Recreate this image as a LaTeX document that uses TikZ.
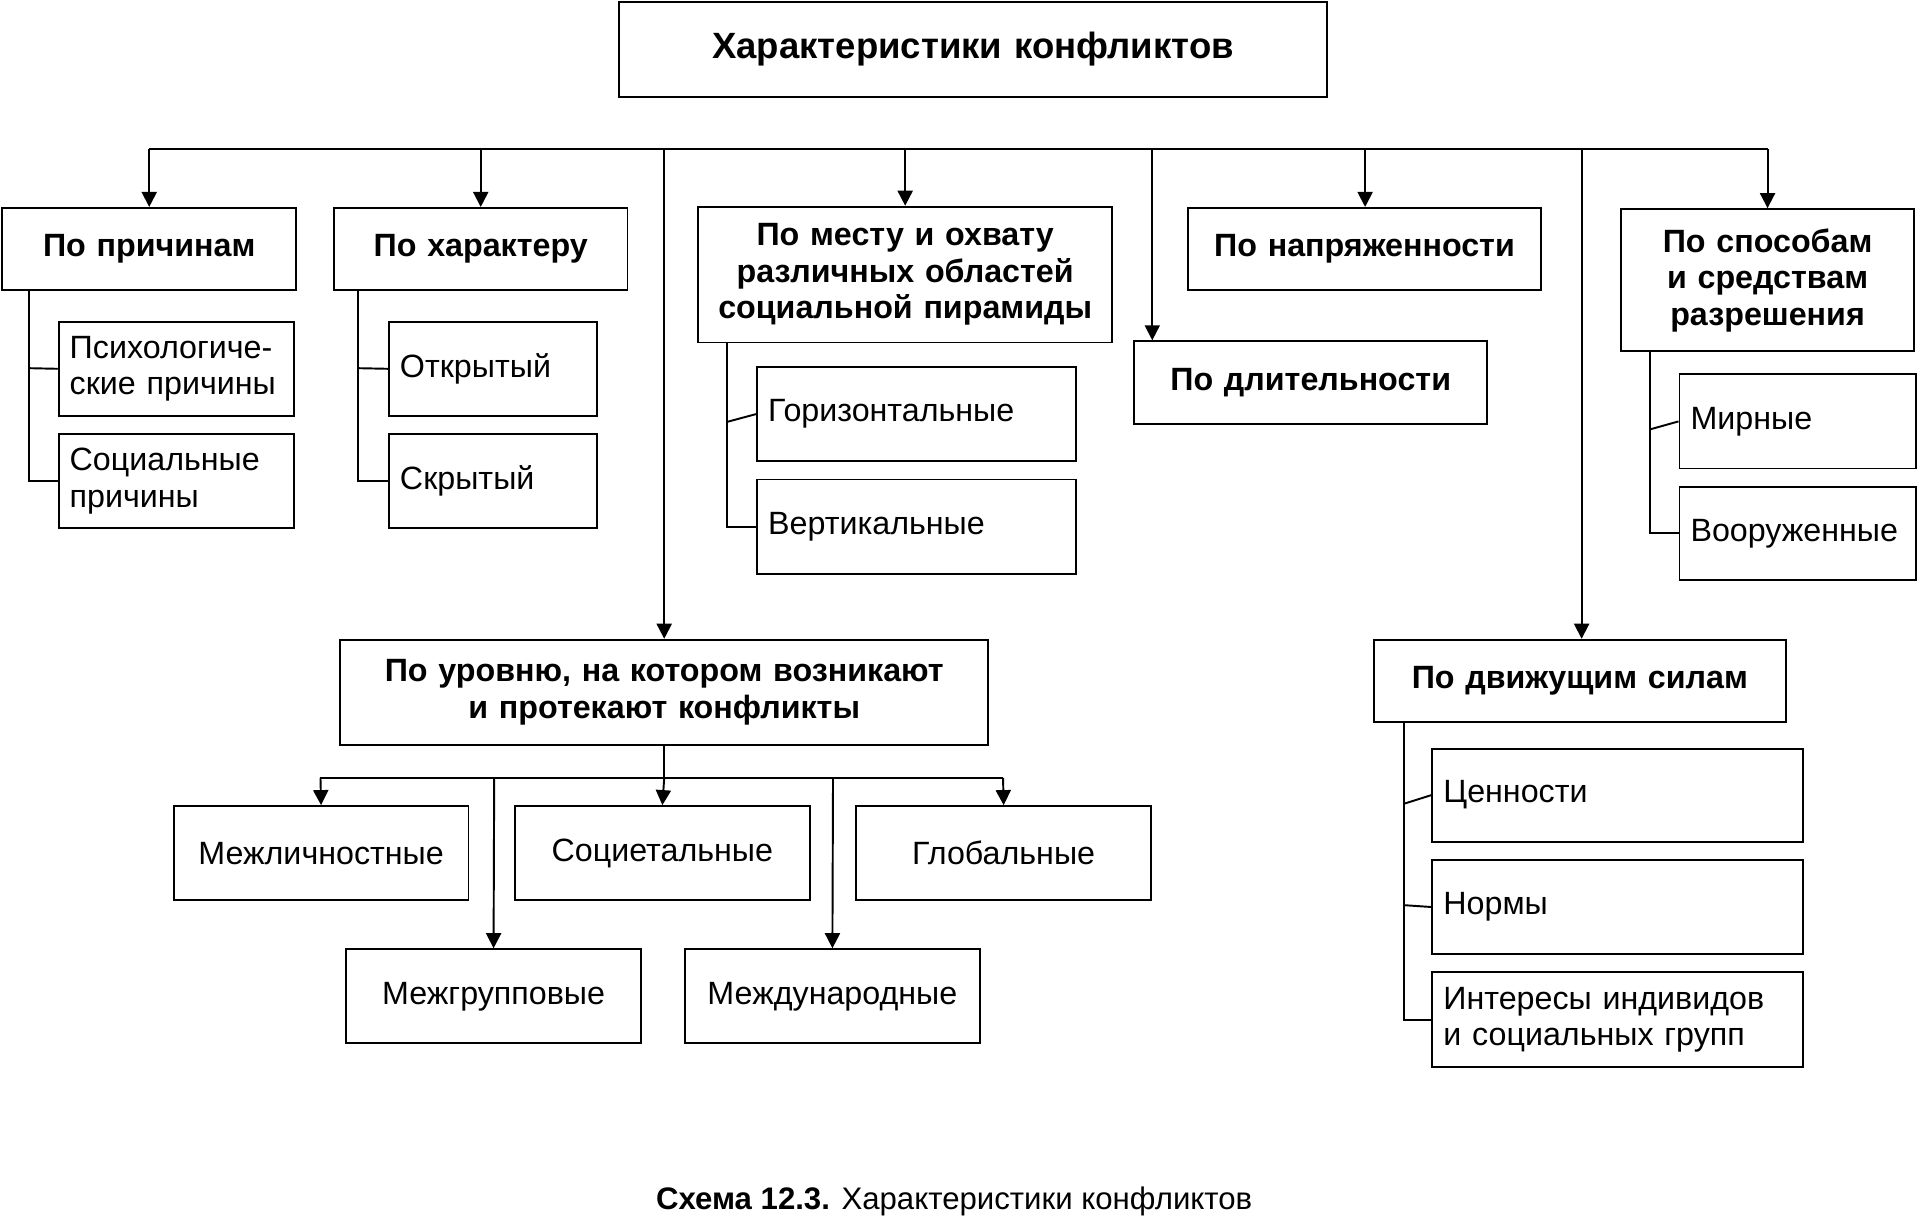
\documentclass[tikz,border=0pt]{standalone}
\usepackage{fontspec}
\setmainfont{Liberation Sans}
\usetikzlibrary{arrows.meta}
\newcommand\bx[7]{%
\pgfmathsetmacro\bw{(#4-#2)*0.02}%
\pgfmathsetmacro\bh{(#5-#3)*0.02}%
\pgfmathsetmacro\tw{\bw-0.36}%
\node[box,#6,minimum width=\bw cm,minimum height=\bh cm,text width=\tw cm] (#1) at ({(#2+#4)/2},{(#3+#5)/2}) {#7};}
\begin{document}
\begin{tikzpicture}[x=0.02cm,y=-0.02cm,
  box/.style={draw,line width=0.9pt,inner sep=0pt,font=\fontsize{15}{17}\selectfont},
  cat/.style={align=center,font=\fontsize{15}{17}\selectfont\bfseries},
  it/.style={align=left},
  ln/.style={line width=0.9pt},
  arr/.style={ln,-{Triangle[length=7pt,width=7pt]}}]
\useasboundingbox (0,0) rectangle (1568,997);
\bx{title}{506}{2}{1085}{79}{cat,font=\fontsize{17}{20}\selectfont\bfseries}{Характеристики конфликтов}
\bx{prich}{2}{170}{242}{237}{cat}{По причинам}
\bx{har}{273}{170}{513}{237}{cat}{По характеру}
\bx{mesto}{571}{169}{909}{280}{cat}{По месту и охвату\\различных областей\\социальной пирамиды}
\bx{napr}{971}{170}{1260}{237}{cat}{По напряженности}
\bx{dlit}{927}{279}{1216}{347}{cat}{По длительности}
\bx{sposob}{1325}{171}{1565}{287}{cat}{По способам\\и средствам\\разрешения}
\bx{urov}{278}{523}{808}{609}{cat}{По уровню, на котором возникают\\и протекают конфликты}
\bx{dvizh}{1123}{523}{1460}{590}{cat}{По движущим силам}
% children
\bx{psih}{48}{263}{240}{340}{it}{Психологиче-\\ские причины}
\bx{soc}{48}{355}{240}{432}{it}{Социальные\\причины}
\bx{otkr}{318}{263}{488}{340}{it}{Открытый}
\bx{skr}{318}{355}{488}{432}{it}{Скрытый}
\bx{gor}{619}{300}{880}{377}{it}{Горизонтальные}
\bx{vert}{619}{392}{880}{469}{it}{Вертикальные}
\bx{mir}{1373}{306}{1566}{383}{it,text width=3.5cm}{Мирные}
\bx{voor}{1373}{398}{1566}{474}{it,text width=3.7cm}{Вооруженные}
\bx{cen}{1171}{612}{1474}{688}{it}{Ценности}
\bx{norm}{1171}{703}{1474}{780}{it}{Нормы}
\bx{inter}{1171}{795}{1474}{872}{it}{Интересы индивидов\\и социальных групп}
\bx{mezhl}{142}{659}{383}{736}{align=center}{Межличностные}
\bx{socie}{421}{659}{662}{736}{align=center}{Социетальные}
\bx{glob}{700}{659}{941}{736}{align=center}{Глобальные}
\bx{mezhg}{283}{776}{524}{853}{align=center}{Межгрупповые}
\bx{mezhd}{560}{776}{801}{853}{align=center}{Международные}
% top bus
\coordinate (bL) at (122,122);
\coordinate (bR) at (1445,122);
\draw[ln] (bL) -- (bR);
\draw[arr] (bL) -- (prich.north -| bL);
\draw[arr] (393,122) -- (har.north -| 393,0);
\draw[arr] (543,122) -- (urov.north -| 543,0);
\draw[arr] (740,122) -- (mesto.north -| 740,0);
\draw[arr] (942,122) -- (dlit.north -| 942,0);
\draw[arr] (1116,122) -- (napr.north -| 1116,0);
\draw[arr] (1293,122) -- (dvizh.north -| 1293,0);
\draw[arr] (bR) -- (sposob.north -| bR);
% subtrees
\draw[ln] (prich.south -| 24,0) |- (soc.west);
\draw[ln] (24,301) -- (psih.west);
\draw[ln] (har.south -| 293,0) |- (skr.west);
\draw[ln] (293,301) -- (otkr.west);
\draw[ln] (mesto.south -| 594,0) |- (vert.west);
\draw[ln] (594,345) -- (gor.west);
\draw[ln] (sposob.south -| 1349,0) |- (voor.west);
\draw[ln] (1349,351) -- (mir.west);
\draw[ln] (dvizh.south -| 1148,0) |- (inter.west);
\draw[ln] (1148,657) -- (cen.west);
\draw[ln] (1148,740) -- (norm.west);
% level subtree
\coordinate (lb) at (543,636);
\draw[ln] (urov.south) -- (lb);
\draw[ln] (262,636) -- (820,636);
\draw[arr] (262,636) -- (mezhl.north);
\draw[arr] (lb) -- (socie.north);
\draw[arr] (820,636) -- (glob.north);
\draw[arr] (404,636) -- (mezhg.north);
\draw[arr] (681,636) -- (mezhd.north);
\node[font=\fontsize{14.5}{17}\selectfont] (cap) at (780,982) {\textbf{Схема 12.3.} Характеристики конфликтов};
\end{tikzpicture}
\end{document}
